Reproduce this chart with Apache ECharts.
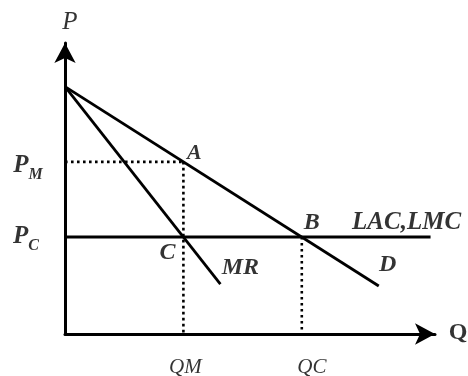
<!DOCTYPE html>
<html>
<head>
<meta charset="utf-8">
<script src="https://cdn.jsdelivr.net/npm/echarts@6/dist/echarts.min.js"></script>
<style>html,body{margin:0;padding:0;background:#fff}#c{width:468px;height:376px}</style>
</head>
<body>
<div id="c"></div>
<script>
// Quantities and prices
var demandQ = [0, 10.6];
var demandP = [10.2, 1.98];
var mrQ = [0, 5.25];
var mrP = [10.2, 2.06];
var lacQ = [0, 12.35];
var lacP = [4, 4];
var QM = 4, QC = 8;
var PM = 7.1, PC = 4;
var xMax = 12.5, yMax = 12;

var serif = '"Liberation Serif", "DejaVu Serif", serif';
var chart = echarts.init(document.getElementById('c'), null, {renderer: 'canvas'});

function pairs(xs, ys) { return xs.map(function (x, i) { return [x, ys[i]]; }); }
function solid(data) {
  return { type: 'line', data: data, symbol: 'none', silent: true, z: 3,
           lineStyle: { color: '#000', width: 2.8 } };
}
function dotted(data) {
  return { type: 'line', data: data, symbol: 'none', silent: true, z: 2,
           lineStyle: { color: '#000', width: 2.6, type: [2.6, 3.4] } };
}
function lab(pt, text, offset, style) {
  var s = Object.assign({ fontFamily: serif, fontSize: 24, fontWeight: 'bold', fontStyle: 'italic', color: '#000' }, style || {});
  return { type: 'scatter', symbolSize: 0, silent: true, z: 5,
           data: [pt],
           label: Object.assign({ show: true, position: 'inside', offset: offset, formatter: text }, s) };
}
var subRich = {
  p: { fontFamily: serif, fontSize: 25, fontWeight: 'bold', fontStyle: 'italic', color: '#000', lineHeight: 26, verticalAlign: 'top' },
  s: { fontFamily: serif, fontSize: 16, fontWeight: 'bold', fontStyle: 'italic', color: '#000', lineHeight: 12, verticalAlign: 'bottom', padding: [0, 0, -4, 0] }
};

chart.setOption({
  animation: false,
  grid: { left: 65, right: 33, top: 43, bottom: 42 },
  xAxis: {
    type: 'value', min: 0, max: xMax,
    axisLine: { show: true, symbol: ['none', 'arrow'], symbolSize: [16, 20], lineStyle: { color: '#000', width: 3 } },
    axisTick: { show: false }, axisLabel: { show: false }, splitLine: { show: false }
  },
  yAxis: {
    type: 'value', min: 0, max: yMax,
    axisLine: { show: true, symbol: ['none', 'arrow'], symbolSize: [16, 20], lineStyle: { color: '#000', width: 3 } },
    axisTick: { show: false }, axisLabel: { show: false }, splitLine: { show: false }
  },
  series: [
    solid(pairs(demandQ, demandP)),
    solid(pairs(mrQ, mrP)),
    solid(pairs(lacQ, lacP)),
    dotted([[0, PM], [QM, PM]]),
    dotted([[QM, PM], [QM, 0]]),
    dotted([[QC, PC], [QC, 0]]),
    lab([QM, PM], 'A', [11, -9], { fontSize: 22 }),
    lab([QC, PC], 'B', [10, -14]),
    lab([QM, PC], 'C', [-16, 16]),
    lab([demandQ[1], demandP[1]], 'D', [9, -21]),
    lab([mrQ[1], mrP[1]], 'MR', [20, -16]),
    lab([lacQ[1], lacP[1]], 'LAC,LMC', [-24, -14], { fontSize: 25 }),
    lab([QM, 0], 'QM', [2, 33], { fontWeight: 'normal', fontSize: 21 }),
    lab([QC, 0], 'QC', [10, 33], { fontWeight: 'normal', fontSize: 21 }),
    lab([0, yMax], 'P', [5, -21], { fontWeight: 'normal', fontSize: 25 }),
    lab([xMax, 0], 'Q', [23, -1], { fontStyle: 'normal', fontSize: 24 }),
    { type: 'scatter', symbolSize: 0, silent: true, z: 5, data: [[0, PM]],
      label: { show: true, position: 'inside', offset: [-37, 4], formatter: '{p|P}{s|M}', rich: subRich } },
    { type: 'scatter', symbolSize: 0, silent: true, z: 5, data: [[0, PC]],
      label: { show: true, position: 'inside', offset: [-39, 0], formatter: '{p|P}{s|C}', rich: subRich } }
  ]
});
</script>
</body>
</html>
